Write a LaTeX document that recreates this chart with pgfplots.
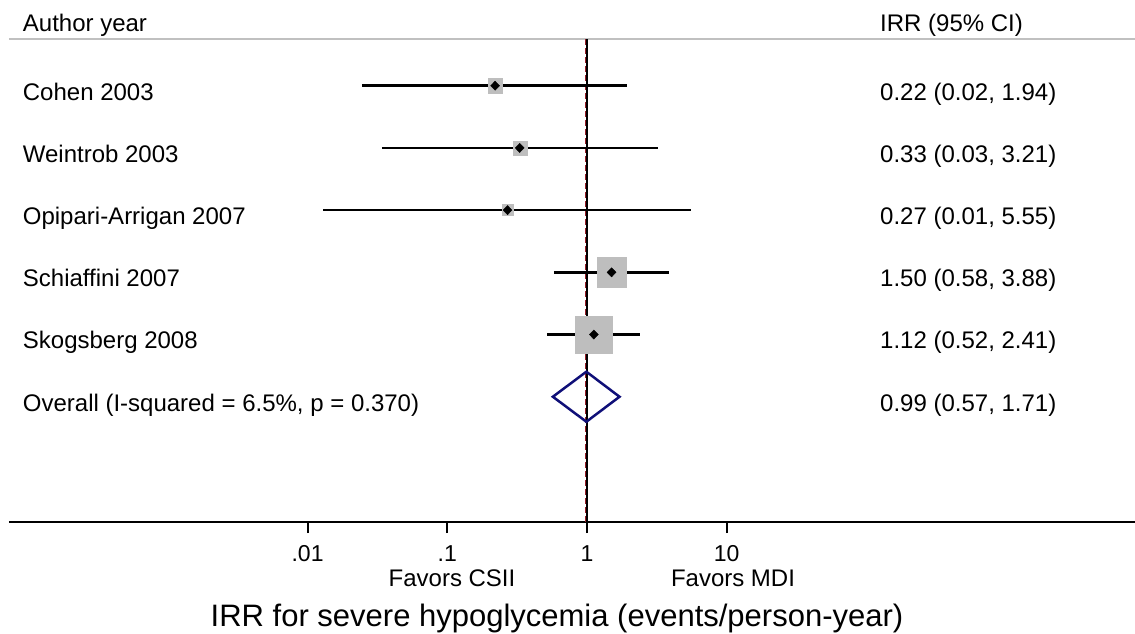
\documentclass[border=0pt]{standalone}
\usepackage{fontspec}
\setmainfont{Liberation Sans}
\usepackage{pgfplots}
\pgfplotsset{compat=1.18}
\definecolor{boxgray}{RGB}{190,190,190}
\definecolor{diamondnavy}{RGB}{15,15,120}
\definecolor{refred}{RGB}{150,30,40}
\definecolor{hdrgray}{RGB}{192,192,192}
\newcommand\rowfont{\fontsize{24}{28}\selectfont}
\newcommand\titlefont{\fontsize{31}{36}\selectfont}
\begin{document}
\begin{tikzpicture}[x=1pt,y=1pt]
\path[use as bounding box] (-9,39) rectangle (1126,-594);
\begin{axis}[
  name=ax,
  at={(0,0)}, anchor=north west,
  scale only axis,
  width=1126pt, height=483pt,
  xmode=log,
  xmin=7.289e-5, xmax=8369,
  ymin=-8.014, ymax=-0.249,
  axis x line*=bottom,
  axis y line=none,
  x axis line style={-, line width=2.3pt},
  xtick={0.01,0.1,1,10},
  xticklabels={.01,.1,1,10},
  xminorticks=false,
  major tick length=11pt,
  tick align=outside,
  x tick style={line width=2pt, black},
  xticklabel style={font=\fontsize{23}{27}\selectfont, anchor=base, yshift=-28.7pt},
  clip=false,
]
% header rule
\draw[hdrgray, line width=1.8pt] (rel axis cs:0,1) -- (rel axis cs:1,1);
% reference lines at 1
\addplot[black, line width=2pt] coordinates {(1,-0.249) (1,-8.014)};
\addplot[refred, line width=1.5pt, dash pattern=on 6pt off 3pt, xshift=-1.4pt] coordinates {(1,-0.249) (1,-8.014)};
% weight boxes
\addplot[only marks, mark=square*, color=boxgray, mark size=7.3pt] coordinates {(0.22,-1)};
\addplot[only marks, mark=square*, color=boxgray, mark size=7.0pt] coordinates {(0.33,-2)};
\addplot[only marks, mark=square*, color=boxgray, mark size=5.5pt] coordinates {(0.27,-3)};
\addplot[only marks, mark=square*, color=boxgray, mark size=14.8pt] coordinates {(1.50,-4)};
\addplot[only marks, mark=square*, color=boxgray, mark size=18.2pt] coordinates {(1.12,-5)};
% confidence intervals
\addplot[black, line width=2.6pt] coordinates {(0.0245,-1) (1.94,-1)};
\addplot[black, line width=2.6pt] coordinates {(0.034,-2) (3.21,-2)};
\addplot[black, line width=2.6pt] coordinates {(0.013,-3) (5.55,-3)};
\addplot[black, line width=2.6pt] coordinates {(0.58,-4) (3.88,-4)};
\addplot[black, line width=2.6pt] coordinates {(0.52,-5) (2.41,-5)};
% point estimates
\addplot[only marks, mark=diamond*, mark size=4.6pt, black, mark options={xscale=1.3}] coordinates {(0.22,-1) (0.33,-2) (0.27,-3) (1.50,-4) (1.12,-5)};
% overall diamond
\addplot[diamondnavy, line width=2.5pt, line join=miter] coordinates {(0.57,-6) (0.99,-5.598) (1.71,-6) (0.99,-6.402)} -- cycle;
\end{axis}
% texts (origin = top-left of axis box)
\node[anchor=base west, font=\rowfont, inner sep=0pt] at (13.7,7.3) {Author year};
\node[anchor=base west, font=\rowfont, inner sep=0pt] at (871,7.3) {IRR (95\% CI)};
\node[anchor=base west, font=\rowfont, inner sep=0pt] at (13.7,-61) {Cohen 2003};
\node[anchor=base west, font=\rowfont, inner sep=0pt] at (13.7,-123.2) {Weintrob 2003};
\node[anchor=base west, font=\rowfont, inner sep=0pt] at (13.7,-185.4) {Opipari-Arrigan 2007};
\node[anchor=base west, font=\rowfont, inner sep=0pt] at (13.7,-247.6) {Schiaffini 2007};
\node[anchor=base west, font=\rowfont, inner sep=0pt] at (13.7,-309.8) {Skogsberg 2008};
\node[anchor=base west, font=\rowfont, inner sep=0pt] at (13.7,-372) {Overall (I-squared = 6.5\%, p = 0.370)};
\node[anchor=base west, font=\rowfont, inner sep=0pt] at (871,-61) {0.22 (0.02, 1.94)};
\node[anchor=base west, font=\rowfont, inner sep=0pt] at (871,-123.2) {0.33 (0.03, 3.21)};
\node[anchor=base west, font=\rowfont, inner sep=0pt] at (871,-185.4) {0.27 (0.01, 5.55)};
\node[anchor=base west, font=\rowfont, inner sep=0pt] at (871,-247.6) {1.50 (0.58, 3.88)};
\node[anchor=base west, font=\rowfont, inner sep=0pt] at (871,-309.8) {1.12 (0.52, 2.41)};
\node[anchor=base west, font=\rowfont, inner sep=0pt] at (871,-372) {0.99 (0.57, 1.71)};
\node[anchor=base, font=\rowfont, inner sep=0pt] at (443,-547) {Favors CSII};
\node[anchor=base, font=\rowfont, inner sep=0pt] at (724,-547) {Favors MDI};
\node[anchor=base, font=\titlefont, inner sep=0pt] at (548,-587.7) {IRR for severe hypoglycemia (events/person-year)};
\end{tikzpicture}
\end{document}
